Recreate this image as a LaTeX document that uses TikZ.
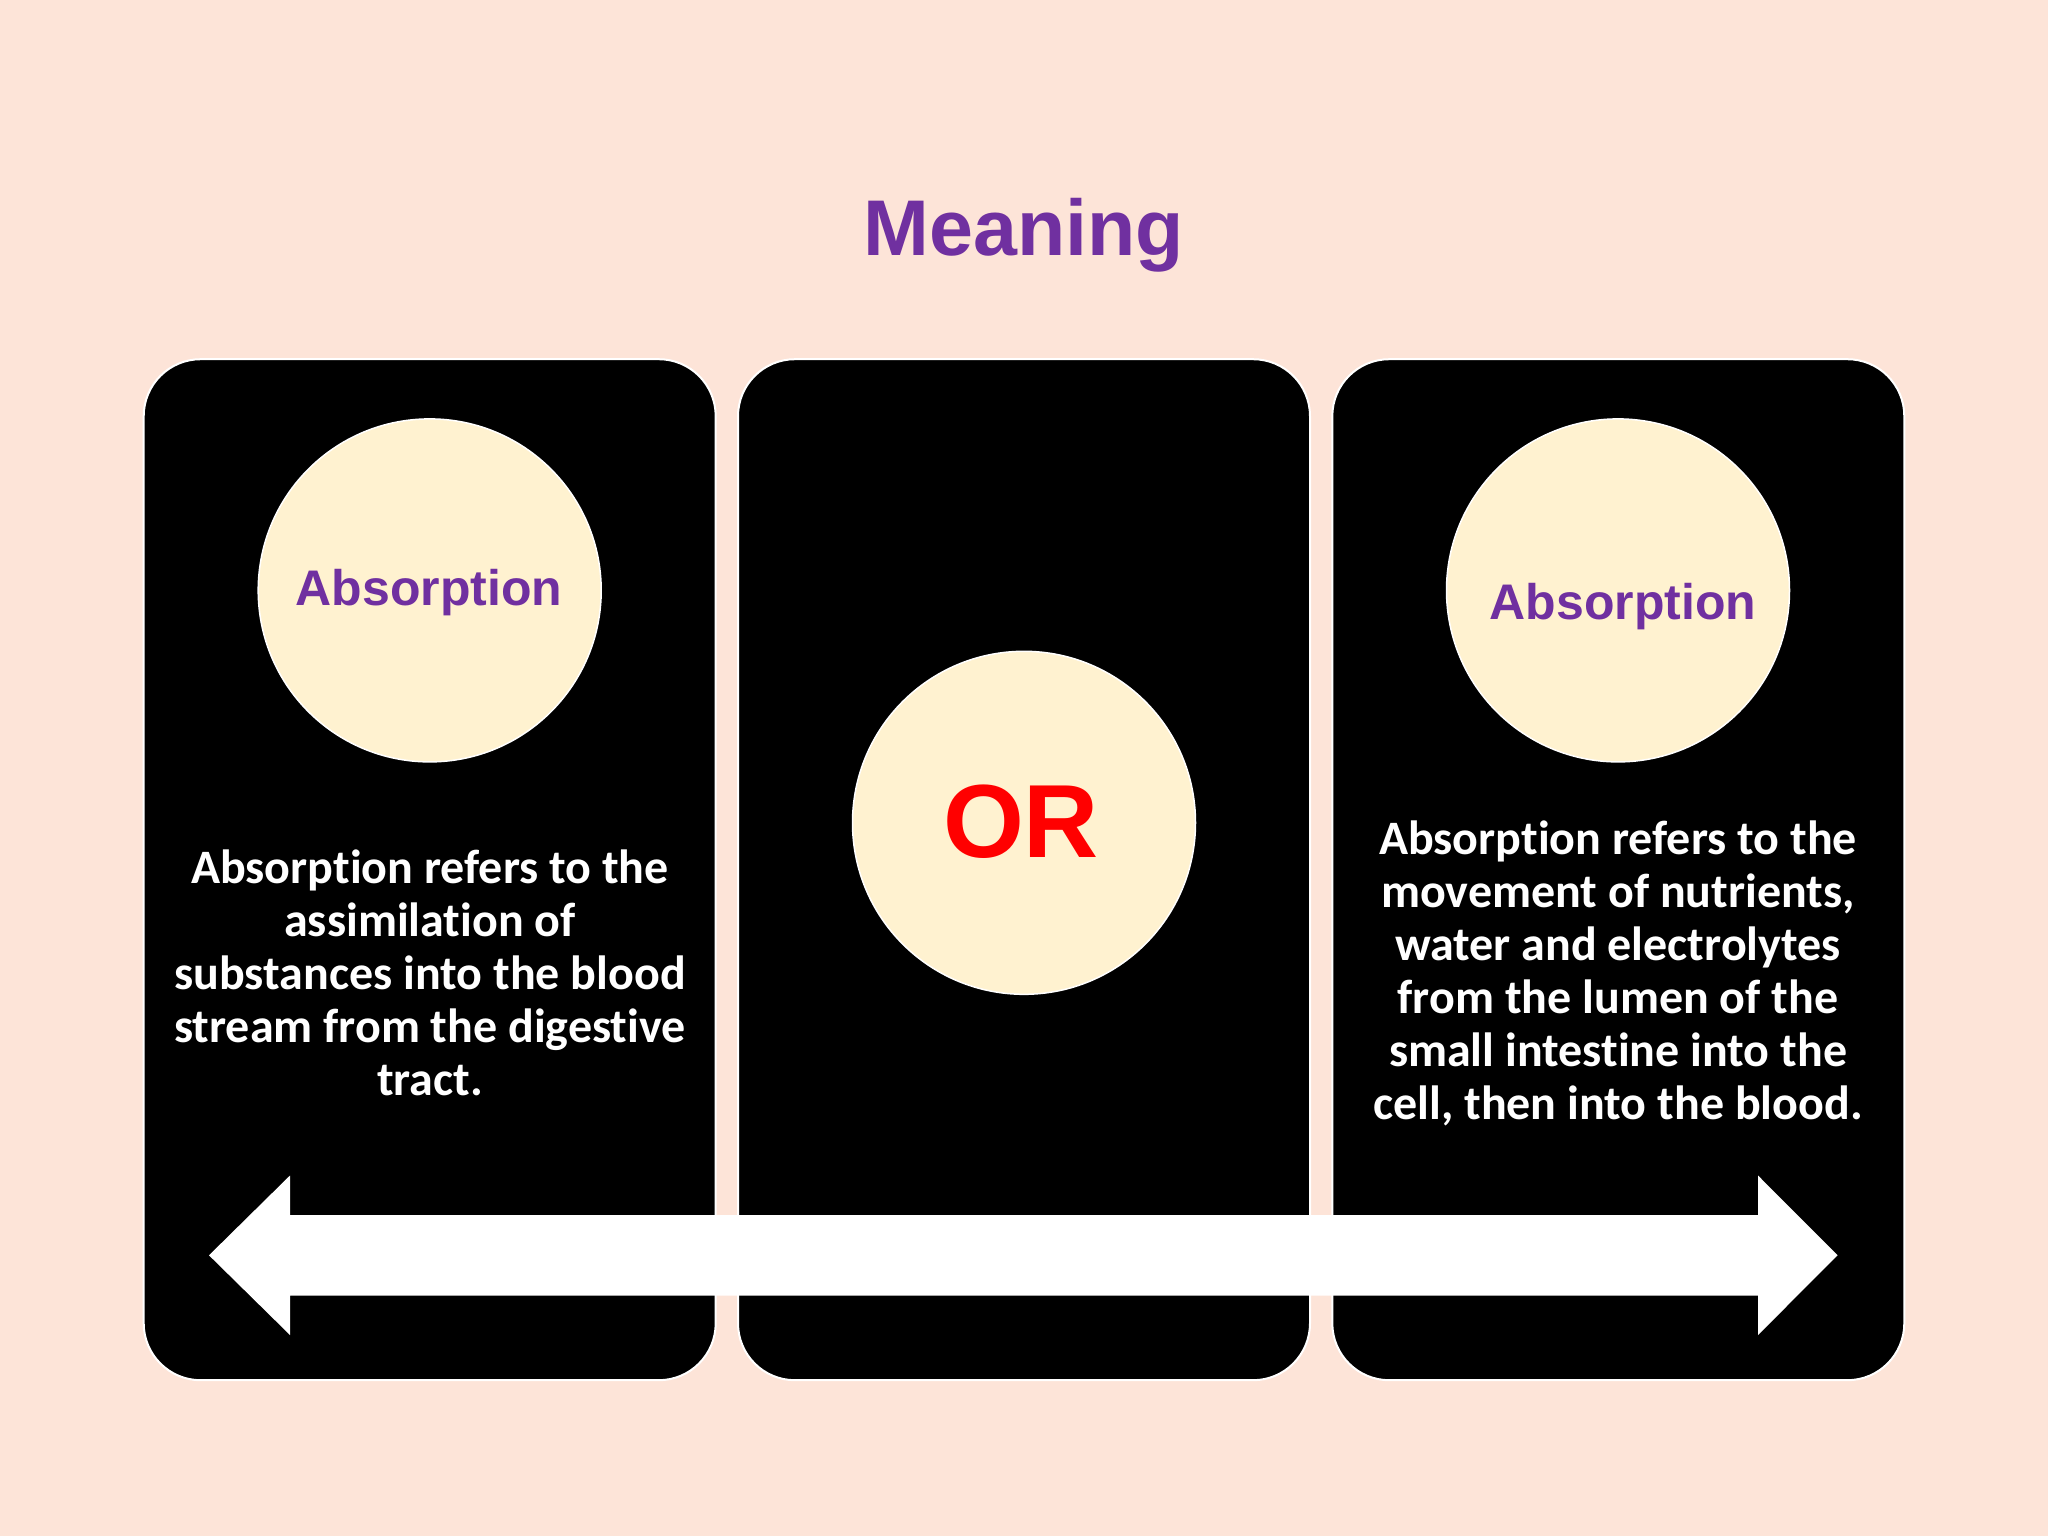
\documentclass[tikz,border=0pt]{standalone}
\usepackage{fontspec}
\setmainfont{Carlito}[Ligatures=NoCommon]
\newfontfamily\arialfont{Liberation Sans}
\definecolor{bgc}{HTML}{FDE4D8}
\definecolor{cream}{HTML}{FFF2D0}
\definecolor{purp}{HTML}{7030A0}
\definecolor{redor}{HTML}{FF0000}
\tikzset{
  panel/.style={fill=black, draw=white, line width=2pt, rounded corners=57pt, minimum width=572pt, minimum height=1021pt, inner sep=0pt},
  disc/.style={circle, fill=cream, draw=white, line width=1.5pt, minimum size=343pt, inner sep=0pt},
  body/.style={text=white, align=center, font=\bfseries\fontsize{48}{53}\selectfont, inner sep=0pt},
  disclabel/.style={text=purp, font=\arialfont\bfseries\fontsize{50}{60}\selectfont, inner sep=0pt}
}
\begin{document}
\begin{tikzpicture}[x=1pt,y=-1pt]
\fill[bgc] (0,0) rectangle (2048,1536);
\useasboundingbox (0,0) rectangle (2048,1536);
\node[text=purp, font=\arialfont\bfseries\fontsize{79}{90}\selectfont] (title) at (1024,235) {Meaning};
\node[panel] (pl) at (429.7,869.7) {};
\node[panel] (pm) at (1024,869.7) {};
\node[panel] (pr) at (1618.3,869.7) {};
\node[disc] (cl) at (429.7,590.4) {};
\node[disc] (cm) at (1024,822.8) {};
\node[disc] (cr) at (1618,590.4) {};
\node[disclabel] (tl) at (429,593) {Absorption};
\node[disclabel] (tr) at (1623,607) {Absorption};
\node[text=redor, font=\arialfont\bfseries\fontsize{104}{120}\selectfont, inner sep=0pt] (or) at (1021,822) {OR};
\node[body] (bl) at (430,973) {Absorption refers to the\\assimilation of\\substances into the blood\\stream from the digestive\\tract.};
\node[body] (br) at (1618,973) {Absorption refers to the\\movement of nutrients,\\water and electrolytes\\from the lumen of the\\small intestine into the\\cell, then into the blood.};
\fill[white] (209,1255.3) -- (290,1175.5) -- (290,1215) -- (1758,1215) -- (1758,1175.5) -- (1837.6,1255.3) -- (1758,1335) -- (1758,1295.6) -- (290,1295.6) -- (290,1335) -- cycle;
\end{tikzpicture}
\end{document}
